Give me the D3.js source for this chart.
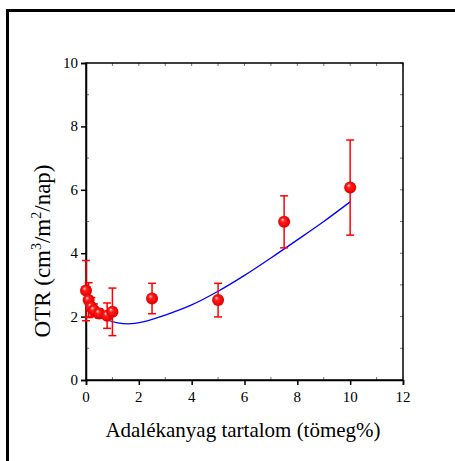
<!DOCTYPE html>
<html>
<head>
<meta charset="utf-8">
<script src="https://cdn.jsdelivr.net/npm/d3@7"></script>
<style>
  body { margin: 0; background: #fff; }
  svg { display: block; }
</style>
</head>
<body>
<script>
// measured points: additive content vs OTR, with error bars
var xVals = [0, 0.1, 0.2, 0.3, 0.5, 0.8, 1.0, 2.5, 5, 7.5, 10];
var yVals = [2.82, 2.52, 2.3, 2.2, 2.1, 2.03, 2.15, 2.57, 2.52, 4.99, 6.07];
var yErr  = [0.95, 0.55, 0.3, 0.2, 0.15, 0.4, 0.75, 0.48, 0.53, 0.82, 1.5];

// fitted curve
var fitX = [0, 0.1, 0.25, 0.5, 0.8, 1.2, 1.6, 2.2, 3, 4, 5, 6, 7, 8, 9, 10];
var fitY = [2.85, 2.6, 2.3, 2.05, 1.9, 1.8, 1.77, 1.84, 2.05, 2.37, 2.8, 3.3, 3.85, 4.42, 5.0, 5.62];

var xTicks = [0, 2, 4, 6, 8, 10, 12];
var yTicks = [0, 2, 4, 6, 8, 10];

var W = 455, H = 461;
var plot = {left: 86, right: 403, top: 63, bottom: 380};
var font = '"Liberation Serif", "Times New Roman", Times, serif';

var svg = d3.select("body").append("svg")
  .attr("width", W)
  .attr("height", H);

// outer frame (only left and top visible)
svg.append("rect")
  .attr("x", 7.5).attr("y", 10.5)
  .attr("width", 500).attr("height", 500)
  .attr("fill", "none")
  .attr("stroke", "#000")
  .attr("stroke-width", 3);

var x = d3.scaleLinear().domain([0, 12]).range([plot.left, plot.right]);
var y = d3.scaleLinear().domain([0, 10]).range([plot.bottom, plot.top]);

var defs = svg.append("defs");
var grad = defs.append("radialGradient")
  .attr("id", "ball")
  .attr("cx", "50%").attr("cy", "50%").attr("r", "55%")
  .attr("fx", "35%").attr("fy", "30%");
grad.append("stop").attr("offset", "0%").attr("stop-color", "#ffd6d6");
grad.append("stop").attr("offset", "30%").attr("stop-color", "#ff2020");
grad.append("stop").attr("offset", "85%").attr("stop-color", "#e80000");
grad.append("stop").attr("offset", "100%").attr("stop-color", "#b80000");

// minor ticks on all sides, inward
var minorX = d3.range(0, 13, 1);
var minorY = d3.range(0, 11, 1);
var g = svg.append("g");
g.selectAll(".mt").data(minorX).enter().append("line")
  .attr("x1", d => x(d)).attr("x2", d => x(d))
  .attr("y1", plot.top).attr("y2", plot.top + 3)
  .attr("stroke", "#777").attr("stroke-width", 1);
g.selectAll(".mb").data(minorX.filter(d => d % 2)).enter().append("line")
  .attr("x1", d => x(d)).attr("x2", d => x(d))
  .attr("y1", plot.bottom).attr("y2", plot.bottom - 3)
  .attr("stroke", "#777").attr("stroke-width", 1);
g.selectAll(".mr").data(minorY).enter().append("line")
  .attr("x1", plot.right).attr("x2", plot.right - 3)
  .attr("y1", d => y(d)).attr("y2", d => y(d))
  .attr("stroke", "#777").attr("stroke-width", 1);
g.selectAll(".ml").data(minorY.filter(d => d % 2)).enter().append("line")
  .attr("x1", plot.left).attr("x2", plot.left + 3)
  .attr("y1", d => y(d)).attr("y2", d => y(d))
  .attr("stroke", "#777").attr("stroke-width", 1);

// axes box
svg.append("rect")
  .attr("x", plot.left).attr("y", plot.top)
  .attr("width", plot.right - plot.left)
  .attr("height", plot.bottom - plot.top)
  .attr("fill", "none")
  .attr("stroke", "#000")
  .attr("stroke-width", 1.5);

var xAxis = svg.append("g")
  .attr("transform", "translate(0," + plot.bottom + ")")
  .call(d3.axisBottom(x).tickValues(xTicks).tickSize(5).tickFormat(""));
var yAxis = svg.append("g")
  .attr("transform", "translate(" + plot.left + ",0)")
  .call(d3.axisLeft(y).tickValues(yTicks).tickSize(5).tickFormat(""));

[xAxis, yAxis].forEach(function(a) {
  a.select(".domain").attr("stroke-width", 1.5);
  a.selectAll(".tick line").attr("stroke-width", 1.5);
});

// tick labels in Times-like serif
svg.selectAll(".xl").data(xTicks).enter().append("text")
  .attr("x", d => x(d))
  .attr("y", plot.bottom + 22)
  .attr("text-anchor", "middle")
  .style("font-family", font)
  .style("font-size", "15px")
  .text(d => d);
svg.selectAll(".yl").data(yTicks).enter().append("text")
  .attr("x", plot.left - 8)
  .attr("y", d => y(d) + 5)
  .attr("text-anchor", "end")
  .style("font-family", font)
  .style("font-size", "15px")
  .text(d => d);

// fit curve
var line = d3.line()
  .x(function(d, i) { return x(fitX[i]); })
  .y(function(d) { return y(d); })
  .curve(d3.curveMonotoneX);
svg.append("path")
  .datum(fitY)
  .attr("d", line)
  .attr("fill", "none")
  .attr("stroke", "#0000ff")
  .attr("stroke-width", 1.3);

// error bars
var pts = xVals.map(function(v, i) { return {x: v, y: yVals[i], e: yErr[i]}; });
var eb = svg.append("g").attr("stroke", "#ff0000").attr("stroke-width", 1.5);
eb.selectAll(".v").data(pts).enter().append("line")
  .attr("x1", d => x(d.x)).attr("x2", d => x(d.x))
  .attr("y1", d => y(d.y - d.e)).attr("y2", d => y(d.y + d.e));
eb.selectAll(".t").data(pts).enter().append("line")
  .attr("x1", d => x(d.x) - 4).attr("x2", d => x(d.x) + 4)
  .attr("y1", d => y(d.y + d.e)).attr("y2", d => y(d.y + d.e));
eb.selectAll(".b").data(pts).enter().append("line")
  .attr("x1", d => x(d.x) - 4).attr("x2", d => x(d.x) + 4)
  .attr("y1", d => y(d.y - d.e)).attr("y2", d => y(d.y - d.e));

svg.selectAll(".pt").data(pts).enter().append("circle")
  .attr("cx", d => x(d.x))
  .attr("cy", d => y(d.y))
  .attr("r", 6)
  .attr("fill", "url(#ball)");

// axis titles
svg.append("text")
  .attr("x", 243)
  .attr("y", 437)
  .attr("text-anchor", "middle")
  .style("font-family", font)
  .style("font-size", "21px")
  .text("Adalékanyag tartalom (tömeg%)");

var yt = svg.append("text")
  .attr("transform", "translate(50,251) rotate(-90)")
  .attr("text-anchor", "middle")
  .style("font-family", font)
  .style("font-size", "23px");
yt.append("tspan").text("OTR (cm");
yt.append("tspan").style("font-size", "14px").attr("dy", -9).text("3");
yt.append("tspan").attr("dy", 9).text("/m");
yt.append("tspan").style("font-size", "14px").attr("dy", -9).text("2");
yt.append("tspan").attr("dy", 9).text("/nap)");
</script>
</body>
</html>
